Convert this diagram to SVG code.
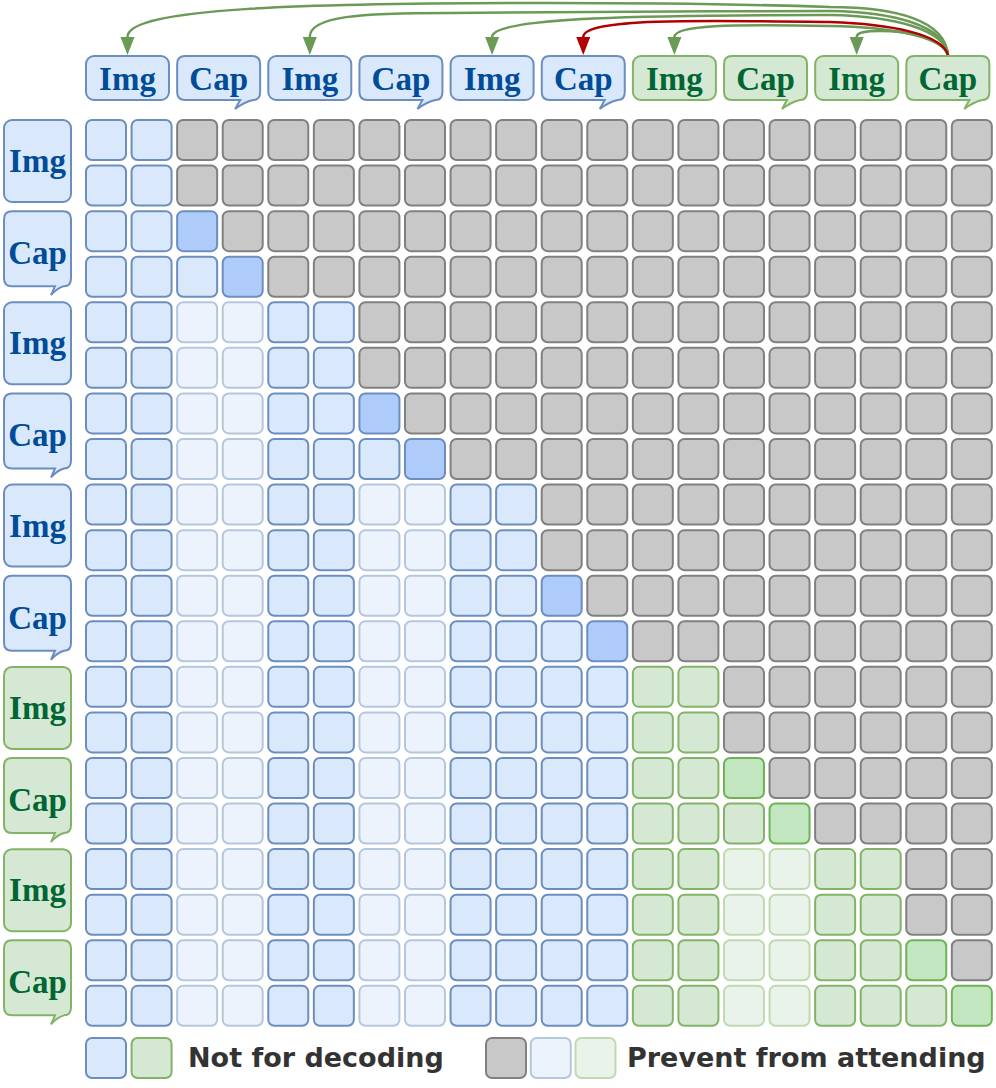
<svg xmlns="http://www.w3.org/2000/svg" width="996" height="1088" viewBox="0 0 996 1088">
<style>
.b{fill:#dae8fc;stroke:#6c8ebf;stroke-width:2}
.bd{fill:#aecbfa;stroke:#6c8ebf;stroke-width:2}
.bf{fill:#ecf3fd;stroke:#b5c6df;stroke-width:2}
.g{fill:#d5e8d4;stroke:#82b366;stroke-width:2}
.gd{fill:#c2e6bf;stroke:#6db356;stroke-width:2}
.gf{fill:#eaf3e9;stroke:#c0d9b2;stroke-width:2}
.x{fill:#c8c8c8;stroke:#808080;stroke-width:2}
.tb{font-family:"Liberation Serif","Times New Roman",serif;font-weight:bold;font-size:33px;fill:#004c99;text-anchor:middle}
.tg{font-family:"Liberation Serif","Times New Roman",serif;font-weight:bold;font-size:33px;fill:#006633;text-anchor:middle}
.lt{font-family:"DejaVu Sans",Verdana,sans-serif;font-weight:bold;font-size:27px;fill:#333333}
.eg{fill:none;stroke:#6a9a55;stroke-width:2.5;marker-end:url(#ag)}
.er{fill:none;stroke:#b20000;stroke-width:2.5;marker-end:url(#ar)}
</style>
<defs>
<rect id="cb" class="b" width="40" height="40" rx="6"/>
<rect id="cbd" class="bd" width="40" height="40" rx="6"/>
<rect id="cbf" class="bf" width="40" height="40" rx="6"/>
<rect id="cg" class="g" width="40" height="40" rx="6"/>
<rect id="cgd" class="gd" width="40" height="40" rx="6"/>
<rect id="cgf" class="gf" width="40" height="40" rx="6"/>
<rect id="cx" class="x" width="40" height="40" rx="6"/>
<path id="capTop" d="M9,56 H76 Q84,56 84,64 V92 Q84,100 77,100 Q68,102 59,109 L64,100 H9 Q1,100 1,92 V64 Q1,56 9,56 Z"/>
<path id="capLeft" d="M12,1 H63 Q71,1 71,9 V68 Q71,76 64,76 Q57,78 51,85 L55,76 H12 Q4,76 4,68 V9 Q4,1 12,1 Z"/>
<marker id="ag" markerUnits="userSpaceOnUse" markerWidth="20" markerHeight="16" viewBox="0 -8 20 16" refX="0" refY="0" orient="auto"><path d="M0,-7 L18,0 L0,7 Z" fill="#6a9a55"/></marker>
<marker id="ar" markerUnits="userSpaceOnUse" markerWidth="20" markerHeight="16" viewBox="0 -8 20 16" refX="0" refY="0" orient="auto"><path d="M0,-7 L18,0 L0,7 Z" fill="#b20000"/></marker>
</defs>

<g id="connectors">
<path class="eg" d="M948,55 C945,20 895,7 830,7 C740,4 640,3 550,3 C300,3 127.5,8 127.5,37"/>
<path class="eg" d="M948,55 C945,26 895,12 830,11 C700,11 550,12 450,13 C360,13 309.8,16 309.8,37"/>
<path class="eg" d="M948,55 C945,30 895,16 830,15 C650,15 492.1,17 492.1,37"/>
<path class="eg" d="M948,55 C942,36 890,27 830,26 C730,24 674.4,25 674.4,37"/>
<path class="eg" d="M948,55 C940,36 905,31 880,31 C865,31 856.7,32 856.7,37"/>
<path class="er" d="M948,55 C942,34 890,24 830,22 C700,20 583.25,18 583.25,37"/>
</g>

<g id="top-1"><rect class="b" x="86" y="56" width="83" height="44" rx="8"/><text class="tb" x="127.5" y="90">Img</text></g>
<g id="top-2"><use href="#capTop" x="176.15" class="b"/><text class="tb" x="218.65" y="90">Cap</text></g>
<g id="top-3"><rect class="b" x="268.3" y="56" width="83" height="44" rx="8"/><text class="tb" x="309.8" y="90">Img</text></g>
<g id="top-4"><use href="#capTop" x="358.45" class="b"/><text class="tb" x="400.95" y="90">Cap</text></g>
<g id="top-5"><rect class="b" x="450.6" y="56" width="83" height="44" rx="8"/><text class="tb" x="492.1" y="90">Img</text></g>
<g id="top-6"><use href="#capTop" x="540.75" class="b"/><text class="tb" x="583.25" y="90">Cap</text></g>
<g id="top-7"><rect class="g" x="632.9" y="56" width="83" height="44" rx="8"/><text class="tg" x="674.4" y="90">Img</text></g>
<g id="top-8"><use href="#capTop" x="723.05" class="g"/><text class="tg" x="765.55" y="90">Cap</text></g>
<g id="top-9"><rect class="g" x="815.2" y="56" width="83" height="44" rx="8"/><text class="tg" x="856.7" y="90">Img</text></g>
<g id="top-10"><use href="#capTop" x="905.35" class="g"/><text class="tg" x="947.85" y="90">Cap</text></g>

<g id="left-1"><rect class="b" x="4" y="120" width="67" height="82" rx="8"/><text class="tb" x="37.5" y="172">Img</text></g>
<g id="left-2"><use href="#capLeft" y="210.15" class="b"/><text class="tb" x="37.5" y="264.15">Cap</text></g>
<g id="left-3"><rect class="b" x="4" y="302.3" width="67" height="82" rx="8"/><text class="tb" x="37.5" y="354.3">Img</text></g>
<g id="left-4"><use href="#capLeft" y="392.45" class="b"/><text class="tb" x="37.5" y="446.45">Cap</text></g>
<g id="left-5"><rect class="b" x="4" y="484.6" width="67" height="82" rx="8"/><text class="tb" x="37.5" y="536.6">Img</text></g>
<g id="left-6"><use href="#capLeft" y="574.75" class="b"/><text class="tb" x="37.5" y="628.75">Cap</text></g>
<g id="left-7"><rect class="g" x="4" y="666.9" width="67" height="82" rx="8"/><text class="tg" x="37.5" y="718.9">Img</text></g>
<g id="left-8"><use href="#capLeft" y="757.05" class="g"/><text class="tg" x="37.5" y="811.05">Cap</text></g>
<g id="left-9"><rect class="g" x="4" y="849.2" width="67" height="82" rx="8"/><text class="tg" x="37.5" y="901.2">Img</text></g>
<g id="left-10"><use href="#capLeft" y="939.35" class="g"/><text class="tg" x="37.5" y="993.35">Cap</text></g>

<g id="matrix">
<g id="row-0" transform="translate(0,120)"><use href="#cb" x="86"/><use href="#cb" x="131.57"/><use href="#cx" x="177.14"/><use href="#cx" x="222.71"/><use href="#cx" x="268.28"/><use href="#cx" x="313.85"/><use href="#cx" x="359.42"/><use href="#cx" x="404.99"/><use href="#cx" x="450.56"/><use href="#cx" x="496.13"/><use href="#cx" x="541.7"/><use href="#cx" x="587.27"/><use href="#cx" x="632.84"/><use href="#cx" x="678.41"/><use href="#cx" x="723.98"/><use href="#cx" x="769.55"/><use href="#cx" x="815.12"/><use href="#cx" x="860.69"/><use href="#cx" x="906.26"/><use href="#cx" x="951.83"/></g>
<g id="row-1" transform="translate(0,165.57)"><use href="#cb" x="86"/><use href="#cb" x="131.57"/><use href="#cx" x="177.14"/><use href="#cx" x="222.71"/><use href="#cx" x="268.28"/><use href="#cx" x="313.85"/><use href="#cx" x="359.42"/><use href="#cx" x="404.99"/><use href="#cx" x="450.56"/><use href="#cx" x="496.13"/><use href="#cx" x="541.7"/><use href="#cx" x="587.27"/><use href="#cx" x="632.84"/><use href="#cx" x="678.41"/><use href="#cx" x="723.98"/><use href="#cx" x="769.55"/><use href="#cx" x="815.12"/><use href="#cx" x="860.69"/><use href="#cx" x="906.26"/><use href="#cx" x="951.83"/></g>
<g id="row-2" transform="translate(0,211.14)"><use href="#cb" x="86"/><use href="#cb" x="131.57"/><use href="#cbd" x="177.14"/><use href="#cx" x="222.71"/><use href="#cx" x="268.28"/><use href="#cx" x="313.85"/><use href="#cx" x="359.42"/><use href="#cx" x="404.99"/><use href="#cx" x="450.56"/><use href="#cx" x="496.13"/><use href="#cx" x="541.7"/><use href="#cx" x="587.27"/><use href="#cx" x="632.84"/><use href="#cx" x="678.41"/><use href="#cx" x="723.98"/><use href="#cx" x="769.55"/><use href="#cx" x="815.12"/><use href="#cx" x="860.69"/><use href="#cx" x="906.26"/><use href="#cx" x="951.83"/></g>
<g id="row-3" transform="translate(0,256.71)"><use href="#cb" x="86"/><use href="#cb" x="131.57"/><use href="#cb" x="177.14"/><use href="#cbd" x="222.71"/><use href="#cx" x="268.28"/><use href="#cx" x="313.85"/><use href="#cx" x="359.42"/><use href="#cx" x="404.99"/><use href="#cx" x="450.56"/><use href="#cx" x="496.13"/><use href="#cx" x="541.7"/><use href="#cx" x="587.27"/><use href="#cx" x="632.84"/><use href="#cx" x="678.41"/><use href="#cx" x="723.98"/><use href="#cx" x="769.55"/><use href="#cx" x="815.12"/><use href="#cx" x="860.69"/><use href="#cx" x="906.26"/><use href="#cx" x="951.83"/></g>
<g id="row-4" transform="translate(0,302.28)"><use href="#cb" x="86"/><use href="#cb" x="131.57"/><use href="#cbf" x="177.14"/><use href="#cbf" x="222.71"/><use href="#cb" x="268.28"/><use href="#cb" x="313.85"/><use href="#cx" x="359.42"/><use href="#cx" x="404.99"/><use href="#cx" x="450.56"/><use href="#cx" x="496.13"/><use href="#cx" x="541.7"/><use href="#cx" x="587.27"/><use href="#cx" x="632.84"/><use href="#cx" x="678.41"/><use href="#cx" x="723.98"/><use href="#cx" x="769.55"/><use href="#cx" x="815.12"/><use href="#cx" x="860.69"/><use href="#cx" x="906.26"/><use href="#cx" x="951.83"/></g>
<g id="row-5" transform="translate(0,347.85)"><use href="#cb" x="86"/><use href="#cb" x="131.57"/><use href="#cbf" x="177.14"/><use href="#cbf" x="222.71"/><use href="#cb" x="268.28"/><use href="#cb" x="313.85"/><use href="#cx" x="359.42"/><use href="#cx" x="404.99"/><use href="#cx" x="450.56"/><use href="#cx" x="496.13"/><use href="#cx" x="541.7"/><use href="#cx" x="587.27"/><use href="#cx" x="632.84"/><use href="#cx" x="678.41"/><use href="#cx" x="723.98"/><use href="#cx" x="769.55"/><use href="#cx" x="815.12"/><use href="#cx" x="860.69"/><use href="#cx" x="906.26"/><use href="#cx" x="951.83"/></g>
<g id="row-6" transform="translate(0,393.42)"><use href="#cb" x="86"/><use href="#cb" x="131.57"/><use href="#cbf" x="177.14"/><use href="#cbf" x="222.71"/><use href="#cb" x="268.28"/><use href="#cb" x="313.85"/><use href="#cbd" x="359.42"/><use href="#cx" x="404.99"/><use href="#cx" x="450.56"/><use href="#cx" x="496.13"/><use href="#cx" x="541.7"/><use href="#cx" x="587.27"/><use href="#cx" x="632.84"/><use href="#cx" x="678.41"/><use href="#cx" x="723.98"/><use href="#cx" x="769.55"/><use href="#cx" x="815.12"/><use href="#cx" x="860.69"/><use href="#cx" x="906.26"/><use href="#cx" x="951.83"/></g>
<g id="row-7" transform="translate(0,438.99)"><use href="#cb" x="86"/><use href="#cb" x="131.57"/><use href="#cbf" x="177.14"/><use href="#cbf" x="222.71"/><use href="#cb" x="268.28"/><use href="#cb" x="313.85"/><use href="#cb" x="359.42"/><use href="#cbd" x="404.99"/><use href="#cx" x="450.56"/><use href="#cx" x="496.13"/><use href="#cx" x="541.7"/><use href="#cx" x="587.27"/><use href="#cx" x="632.84"/><use href="#cx" x="678.41"/><use href="#cx" x="723.98"/><use href="#cx" x="769.55"/><use href="#cx" x="815.12"/><use href="#cx" x="860.69"/><use href="#cx" x="906.26"/><use href="#cx" x="951.83"/></g>
<g id="row-8" transform="translate(0,484.56)"><use href="#cb" x="86"/><use href="#cb" x="131.57"/><use href="#cbf" x="177.14"/><use href="#cbf" x="222.71"/><use href="#cb" x="268.28"/><use href="#cb" x="313.85"/><use href="#cbf" x="359.42"/><use href="#cbf" x="404.99"/><use href="#cb" x="450.56"/><use href="#cb" x="496.13"/><use href="#cx" x="541.7"/><use href="#cx" x="587.27"/><use href="#cx" x="632.84"/><use href="#cx" x="678.41"/><use href="#cx" x="723.98"/><use href="#cx" x="769.55"/><use href="#cx" x="815.12"/><use href="#cx" x="860.69"/><use href="#cx" x="906.26"/><use href="#cx" x="951.83"/></g>
<g id="row-9" transform="translate(0,530.13)"><use href="#cb" x="86"/><use href="#cb" x="131.57"/><use href="#cbf" x="177.14"/><use href="#cbf" x="222.71"/><use href="#cb" x="268.28"/><use href="#cb" x="313.85"/><use href="#cbf" x="359.42"/><use href="#cbf" x="404.99"/><use href="#cb" x="450.56"/><use href="#cb" x="496.13"/><use href="#cx" x="541.7"/><use href="#cx" x="587.27"/><use href="#cx" x="632.84"/><use href="#cx" x="678.41"/><use href="#cx" x="723.98"/><use href="#cx" x="769.55"/><use href="#cx" x="815.12"/><use href="#cx" x="860.69"/><use href="#cx" x="906.26"/><use href="#cx" x="951.83"/></g>
<g id="row-10" transform="translate(0,575.7)"><use href="#cb" x="86"/><use href="#cb" x="131.57"/><use href="#cbf" x="177.14"/><use href="#cbf" x="222.71"/><use href="#cb" x="268.28"/><use href="#cb" x="313.85"/><use href="#cbf" x="359.42"/><use href="#cbf" x="404.99"/><use href="#cb" x="450.56"/><use href="#cb" x="496.13"/><use href="#cbd" x="541.7"/><use href="#cx" x="587.27"/><use href="#cx" x="632.84"/><use href="#cx" x="678.41"/><use href="#cx" x="723.98"/><use href="#cx" x="769.55"/><use href="#cx" x="815.12"/><use href="#cx" x="860.69"/><use href="#cx" x="906.26"/><use href="#cx" x="951.83"/></g>
<g id="row-11" transform="translate(0,621.27)"><use href="#cb" x="86"/><use href="#cb" x="131.57"/><use href="#cbf" x="177.14"/><use href="#cbf" x="222.71"/><use href="#cb" x="268.28"/><use href="#cb" x="313.85"/><use href="#cbf" x="359.42"/><use href="#cbf" x="404.99"/><use href="#cb" x="450.56"/><use href="#cb" x="496.13"/><use href="#cb" x="541.7"/><use href="#cbd" x="587.27"/><use href="#cx" x="632.84"/><use href="#cx" x="678.41"/><use href="#cx" x="723.98"/><use href="#cx" x="769.55"/><use href="#cx" x="815.12"/><use href="#cx" x="860.69"/><use href="#cx" x="906.26"/><use href="#cx" x="951.83"/></g>
<g id="row-12" transform="translate(0,666.84)"><use href="#cb" x="86"/><use href="#cb" x="131.57"/><use href="#cbf" x="177.14"/><use href="#cbf" x="222.71"/><use href="#cb" x="268.28"/><use href="#cb" x="313.85"/><use href="#cbf" x="359.42"/><use href="#cbf" x="404.99"/><use href="#cb" x="450.56"/><use href="#cb" x="496.13"/><use href="#cb" x="541.7"/><use href="#cb" x="587.27"/><use href="#cg" x="632.84"/><use href="#cg" x="678.41"/><use href="#cx" x="723.98"/><use href="#cx" x="769.55"/><use href="#cx" x="815.12"/><use href="#cx" x="860.69"/><use href="#cx" x="906.26"/><use href="#cx" x="951.83"/></g>
<g id="row-13" transform="translate(0,712.41)"><use href="#cb" x="86"/><use href="#cb" x="131.57"/><use href="#cbf" x="177.14"/><use href="#cbf" x="222.71"/><use href="#cb" x="268.28"/><use href="#cb" x="313.85"/><use href="#cbf" x="359.42"/><use href="#cbf" x="404.99"/><use href="#cb" x="450.56"/><use href="#cb" x="496.13"/><use href="#cb" x="541.7"/><use href="#cb" x="587.27"/><use href="#cg" x="632.84"/><use href="#cg" x="678.41"/><use href="#cx" x="723.98"/><use href="#cx" x="769.55"/><use href="#cx" x="815.12"/><use href="#cx" x="860.69"/><use href="#cx" x="906.26"/><use href="#cx" x="951.83"/></g>
<g id="row-14" transform="translate(0,757.98)"><use href="#cb" x="86"/><use href="#cb" x="131.57"/><use href="#cbf" x="177.14"/><use href="#cbf" x="222.71"/><use href="#cb" x="268.28"/><use href="#cb" x="313.85"/><use href="#cbf" x="359.42"/><use href="#cbf" x="404.99"/><use href="#cb" x="450.56"/><use href="#cb" x="496.13"/><use href="#cb" x="541.7"/><use href="#cb" x="587.27"/><use href="#cg" x="632.84"/><use href="#cg" x="678.41"/><use href="#cgd" x="723.98"/><use href="#cx" x="769.55"/><use href="#cx" x="815.12"/><use href="#cx" x="860.69"/><use href="#cx" x="906.26"/><use href="#cx" x="951.83"/></g>
<g id="row-15" transform="translate(0,803.55)"><use href="#cb" x="86"/><use href="#cb" x="131.57"/><use href="#cbf" x="177.14"/><use href="#cbf" x="222.71"/><use href="#cb" x="268.28"/><use href="#cb" x="313.85"/><use href="#cbf" x="359.42"/><use href="#cbf" x="404.99"/><use href="#cb" x="450.56"/><use href="#cb" x="496.13"/><use href="#cb" x="541.7"/><use href="#cb" x="587.27"/><use href="#cg" x="632.84"/><use href="#cg" x="678.41"/><use href="#cg" x="723.98"/><use href="#cgd" x="769.55"/><use href="#cx" x="815.12"/><use href="#cx" x="860.69"/><use href="#cx" x="906.26"/><use href="#cx" x="951.83"/></g>
<g id="row-16" transform="translate(0,849.12)"><use href="#cb" x="86"/><use href="#cb" x="131.57"/><use href="#cbf" x="177.14"/><use href="#cbf" x="222.71"/><use href="#cb" x="268.28"/><use href="#cb" x="313.85"/><use href="#cbf" x="359.42"/><use href="#cbf" x="404.99"/><use href="#cb" x="450.56"/><use href="#cb" x="496.13"/><use href="#cb" x="541.7"/><use href="#cb" x="587.27"/><use href="#cg" x="632.84"/><use href="#cg" x="678.41"/><use href="#cgf" x="723.98"/><use href="#cgf" x="769.55"/><use href="#cg" x="815.12"/><use href="#cg" x="860.69"/><use href="#cx" x="906.26"/><use href="#cx" x="951.83"/></g>
<g id="row-17" transform="translate(0,894.69)"><use href="#cb" x="86"/><use href="#cb" x="131.57"/><use href="#cbf" x="177.14"/><use href="#cbf" x="222.71"/><use href="#cb" x="268.28"/><use href="#cb" x="313.85"/><use href="#cbf" x="359.42"/><use href="#cbf" x="404.99"/><use href="#cb" x="450.56"/><use href="#cb" x="496.13"/><use href="#cb" x="541.7"/><use href="#cb" x="587.27"/><use href="#cg" x="632.84"/><use href="#cg" x="678.41"/><use href="#cgf" x="723.98"/><use href="#cgf" x="769.55"/><use href="#cg" x="815.12"/><use href="#cg" x="860.69"/><use href="#cx" x="906.26"/><use href="#cx" x="951.83"/></g>
<g id="row-18" transform="translate(0,940.26)"><use href="#cb" x="86"/><use href="#cb" x="131.57"/><use href="#cbf" x="177.14"/><use href="#cbf" x="222.71"/><use href="#cb" x="268.28"/><use href="#cb" x="313.85"/><use href="#cbf" x="359.42"/><use href="#cbf" x="404.99"/><use href="#cb" x="450.56"/><use href="#cb" x="496.13"/><use href="#cb" x="541.7"/><use href="#cb" x="587.27"/><use href="#cg" x="632.84"/><use href="#cg" x="678.41"/><use href="#cgf" x="723.98"/><use href="#cgf" x="769.55"/><use href="#cg" x="815.12"/><use href="#cg" x="860.69"/><use href="#cgd" x="906.26"/><use href="#cx" x="951.83"/></g>
<g id="row-19" transform="translate(0,985.83)"><use href="#cb" x="86"/><use href="#cb" x="131.57"/><use href="#cbf" x="177.14"/><use href="#cbf" x="222.71"/><use href="#cb" x="268.28"/><use href="#cb" x="313.85"/><use href="#cbf" x="359.42"/><use href="#cbf" x="404.99"/><use href="#cb" x="450.56"/><use href="#cb" x="496.13"/><use href="#cb" x="541.7"/><use href="#cb" x="587.27"/><use href="#cg" x="632.84"/><use href="#cg" x="678.41"/><use href="#cgf" x="723.98"/><use href="#cgf" x="769.55"/><use href="#cg" x="815.12"/><use href="#cg" x="860.69"/><use href="#cg" x="906.26"/><use href="#cgd" x="951.83"/></g>
</g>

<g id="legend-decoding"><use href="#cb" x="86" y="1038"/><use href="#cg" x="131.57" y="1038"/><text class="lt" x="188" y="1067">Not for decoding</text></g>
<g id="legend-prevent"><use href="#cx" x="486" y="1038"/><use href="#cbf" x="530.8" y="1038"/><use href="#cgf" x="575.5" y="1038"/><text class="lt" x="627" y="1067">Prevent from attending</text></g>
</svg>
